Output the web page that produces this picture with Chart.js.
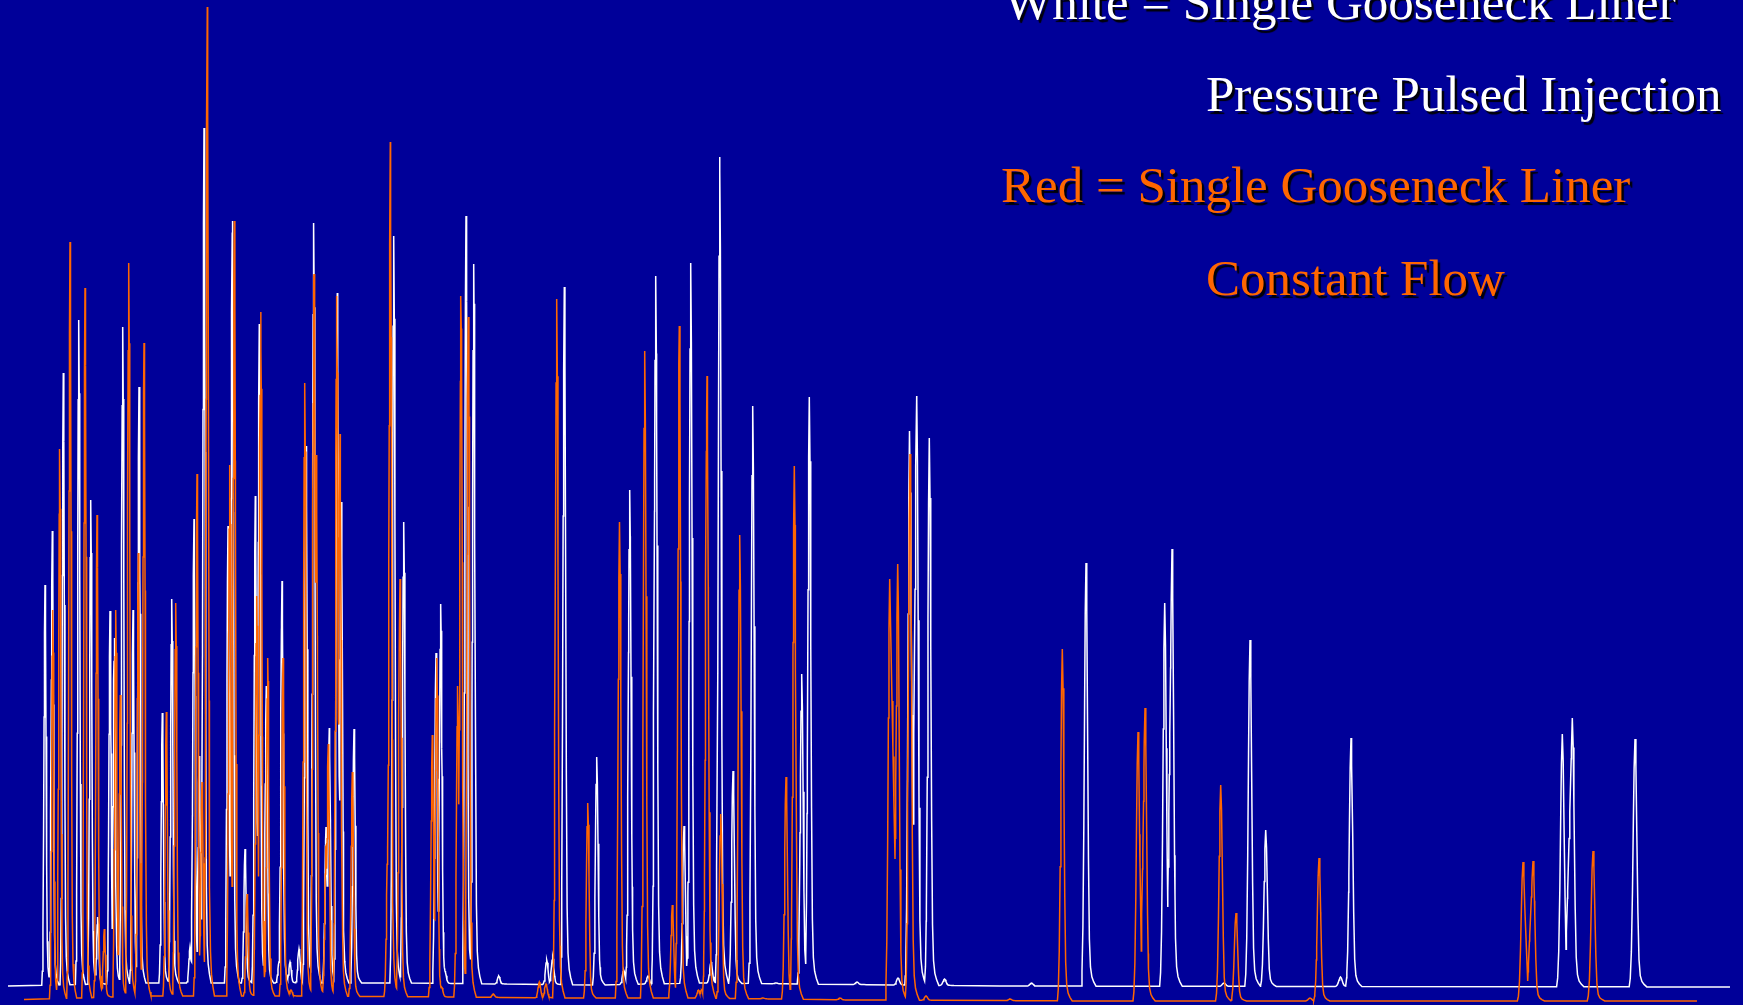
<!DOCTYPE html>
<html>
<head>
<meta charset="utf-8">
<title>Gooseneck liner comparison</title>
<script src="https://cdn.jsdelivr.net/npm/chart.js@4/dist/chart.umd.min.js"></script>
<style>
  html, body { margin: 0; padding: 0; background: #000099; overflow: hidden; }
  #wrap { width: 1743px; height: 1005px; }
</style>
</head>
<body>
<div id="wrap"><canvas id="chrom" width="1743" height="1005"></canvas></div>
<script>
// ---- Pressure pulsed injection run (white trace) ----
const whiteStart = 8, whiteEnd = 1730;
const whitePeakTimes = [45, 52.3, 63.3, 78.7, 90.7, 97.7, 110, 114.3, 122.7, 133, 139, 162.3, 171.7, 190, 194, 199.3, 204,
  228, 232.3, 245, 255.3, 259.3, 266.3, 279, 282, 290, 299, 306, 313.7, 326, 329.3, 337.3, 341.3, 354, 393.7, 403.7,
  436, 440.7, 445, 466, 473.7, 498.7, 546.7, 552.7, 564.3, 596.7, 623.7, 629.7, 648, 655.7, 684, 690.7, 711, 719.7,
  733, 752.7, 776, 801.7, 809.3, 857, 898, 909.5, 916.7, 929.3, 944.5, 1031.5, 1086, 1164.7, 1172, 1224, 1250,
  1265.7, 1340.5, 1351, 1562.3, 1572.3, 1635];
const whitePeakHeights = [401, 455, 613, 666, 486, 69, 375, 348, 659, 376, 599, 273, 387, 39, 467, 230, 858,
  460, 765, 137, 490, 662, 300, 24, 405, 24, 37, 540, 763, 159, 258, 693, 484, 257, 750, 464,
  333, 382, 15, 770, 722, 10, 26, 29, 699, 229, 16, 496, 10, 710, 160, 723, 24, 829,
  215, 580, 3, 312, 589, 4, 8, 555, 590, 548, 7, 3, 423, 383, 437, 3, 346,
  156, 9, 248, 252, 268, 247];
const whiteValleyTimes = [913, 1167.7, 1566];
const whiteValleyHeights = [162, 79, 33];
const whiteDriftTimes = [8, 150, 400, 600, 700, 800, 1000, 1730];
const whiteDriftLevels = [0, 3, 3, 1, 3, 2, 0, -1];

// ---- Constant flow run (orange trace) ----
const orangeStart = 24, orangeEnd = 1697;
const orangePeakTimes = [52.7, 59.7, 70, 85, 97, 104.3, 115.7, 120.3, 128.7, 138.3, 144, 166.3, 175.7, 197, 202, 207.3,
  229.7, 234.3, 247, 256.7, 260.7, 267.7, 283, 291, 304.7, 314, 316.3, 326, 328.3, 336.7, 340, 352.3, 387.7, 390.3,
  400, 432.3, 436.7, 441.7, 457.7, 461, 468.3, 493.3, 539.3, 546, 556.7, 587.7, 619.5, 644.7, 672.3, 679.3, 698.5,
  701.5, 707, 720.7, 739.7, 763, 786, 794.3, 840, 889.7, 897.7, 910, 926, 1010, 1062.3, 1138, 1145, 1220.7, 1236,
  1310, 1319, 1523, 1533, 1593];
const orangePeakHeights = [390, 551, 758, 712, 485, 71, 390, 305, 737, 447, 657, 288, 397, 526, 218, 993,
  535, 779, 106, 404, 688, 342, 342, 10, 617, 726, 545, 154, 256, 704, 566, 228, 154, 858,
  421, 265, 342, 13, 314, 704, 683, 6, 18, 16, 701, 197, 478, 649, 95, 674, 10,
  10, 624, 186, 465, 2, 223, 534, 2, 421, 436, 546, 4, 1, 351, 268, 292, 215, 87,
  2, 142, 138, 139, 149];
const orangeValleyTimes = [895, 1141.3, 1527.7];
const orangeValleyHeights = [141, 49, 19];
const orangeDriftTimes = [24, 150, 300, 450, 560, 700, 850, 1100, 1697];
const orangeDriftLevels = [0.5, 4, 4, 3, 2, 2, 0, -1, -1];

// Legend text block
const legendLines = [
  { text: 'White = Single Gooseneck Liner', color: '#ffffff', x: 1004, y: 19 },
  { text: 'Pressure Pulsed Injection',      color: '#ffffff', x: 1206, y: 111 },
  { text: 'Red = Single Gooseneck Liner',   color: '#ff6600', x: 1001, y: 202 },
  { text: 'Constant Flow',                  color: '#ff6600', x: 1206, y: 295 }
];

// ---- drawing helpers ----
const WHITE_OFFSET = 19;   // vertical stacking of the two runs
const ORANGE_OFFSET = 5;
// peak outline (in units of peak width), with a low tail to the right
const PROFILE_U = [-3.2, -2.6, -2.0, -1.4, -0.9, -0.5, 0, 0.5, 1.0, 1.6, 2.2, 2.9, 3.8, 5.0, 6.5];
const PROFILE_F = [0, 0.035, 0.14, 0.38, 0.67, 0.88, 1, 0.89, 0.62, 0.3, 0.11, 0.045, 0.022, 0.01, 0];
const sigmaAt = t => 1.0 + 0.0005 * t;

function profile(u) {
  if (u <= PROFILE_U[0] || u >= PROFILE_U[PROFILE_U.length - 1]) return 0;
  for (let i = 1; i < PROFILE_U.length; i++) {
    if (u <= PROFILE_U[i]) {
      const a = PROFILE_U[i - 1], b = PROFILE_U[i];
      return PROFILE_F[i - 1] + (PROFILE_F[i] - PROFILE_F[i - 1]) * (u - a) / (b - a);
    }
  }
  return 0;
}

function piecewise(xs, ys, x) {
  if (x <= xs[0]) return ys[0];
  for (let i = 1; i < xs.length; i++) {
    if (x <= xs[i]) return ys[i - 1] + (ys[i] - ys[i - 1]) * (x - xs[i - 1]) / (xs[i] - xs[i - 1]);
  }
  return ys[ys.length - 1];
}

function buildTrace(times, heights, vTimes, vHeights, dTimes, dLevels, start, end, offset) {
  const drift = x => piecewise(dTimes, dLevels, x);
  let xs = [start, end, ...dTimes, ...vTimes];
  times.forEach(t => { const s = sigmaAt(t); PROFILE_U.forEach(u => xs.push(t + u * s)); });
  xs = [...new Set(xs.filter(x => x >= start && x <= end).map(x => Math.round(x * 100) / 100))].sort((a, b) => a - b);
  return xs.map(x => {
    let top = 0;
    times.forEach((t, i) => {
      const f = profile((x - t) / sigmaAt(t));
      if (f > 0) top = Math.max(top, f * (heights[i] - drift(t)));
    });
    let val = drift(x) + top;
    vTimes.forEach((vt, j) => {
      let li = -1, ri = -1;
      times.forEach((t, i) => {
        if (t < vt && (li < 0 || t > times[li])) li = i;
        if (t > vt && (ri < 0 || t < times[ri])) ri = i;
      });
      if (li < 0 || ri < 0) return;
      const tl = times[li], tr = times[ri];
      if (x < tl || x > tr) return;
      const ramp = x <= vt
        ? heights[li] + (vHeights[j] - heights[li]) * (x - tl) / (vt - tl)
        : vHeights[j] + (heights[ri] - vHeights[j]) * (x - vt) / (tr - vt);
      val = Math.max(val, ramp);
    });
    return { x: x, y: offset + val };
  });
}

const whiteTrace = buildTrace(whitePeakTimes, whitePeakHeights, whiteValleyTimes, whiteValleyHeights,
  whiteDriftTimes, whiteDriftLevels, whiteStart, whiteEnd, WHITE_OFFSET);
const orangeTrace = buildTrace(orangePeakTimes, orangePeakHeights, orangeValleyTimes, orangeValleyHeights,
  orangeDriftTimes, orangeDriftLevels, orangeStart, orangeEnd, ORANGE_OFFSET);

const backdrop = {
  id: 'backdrop',
  beforeDraw(chart) {
    const c = chart.ctx;
    c.save();
    c.fillStyle = '#000099';
    c.fillRect(0, 0, chart.width, chart.height);
    c.restore();
  }
};

const legendText = {
  id: 'legendText',
  afterDraw(chart) {
    const c = chart.ctx;
    c.save();
    c.font = '51px "Liberation Serif", "Times New Roman", serif';
    c.textAlign = 'left';
    c.textBaseline = 'alphabetic';
    legendLines.forEach(l => {
      c.shadowColor = 'rgba(0,0,0,0.95)';
      c.shadowOffsetX = 2.5;
      c.shadowOffsetY = 2.5;
      c.shadowBlur = 1;
      c.fillStyle = l.color;
      c.fillText(l.text, l.x, l.y);
    });
    c.restore();
  }
};

new Chart(document.getElementById('chrom'), {
  type: 'line',
  data: {
    datasets: [
      { label: 'Pressure Pulsed Injection', data: whiteTrace, borderColor: '#ffffff', borderWidth: 1.5, order: 2 },
      { label: 'Constant Flow', data: orangeTrace, borderColor: '#ff6600', borderWidth: 1.5, order: 1 }
    ]
  },
  options: {
    responsive: false,
    devicePixelRatio: 1,
    animation: false,
    layout: { padding: 0 },
    elements: { point: { radius: 0 }, line: { tension: 0, fill: false } },
    scales: {
      x: { type: 'linear', min: 0, max: 1743, display: false },
      y: { type: 'linear', min: 0, max: 1005, display: false }
    },
    plugins: { legend: { display: false }, tooltip: { enabled: false } }
  },
  plugins: [backdrop, legendText]
});
</script>
</body>
</html>
